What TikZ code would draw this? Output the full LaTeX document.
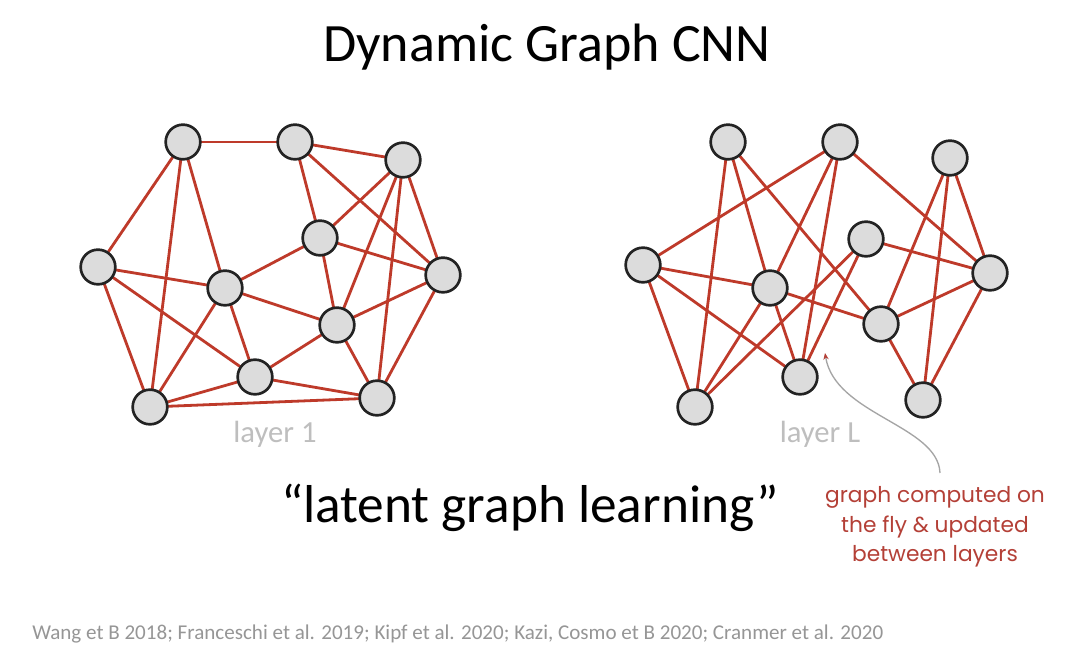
\documentclass[tikz,border=0pt]{standalone}
\usepackage{fontspec}
\setmainfont{Carlito}
\newfontfamily\handfont{Poppins}
\usetikzlibrary{arrows.meta}
\definecolor{edgered}{RGB}{190,58,42}
\definecolor{nodegray}{RGB}{220,220,220}
\definecolor{nodeborder}{RGB}{35,35,35}
\definecolor{labelgray}{RGB}{190,190,190}
\definecolor{citegray}{RGB}{150,150,150}
\definecolor{handred}{RGB}{180,64,55}
\definecolor{arrowgray}{RGB}{165,165,165}
\tikzset{
  vtx/.style={circle, draw=nodeborder, fill=nodegray, line width=2pt, minimum size=26pt, inner sep=0pt},
  edg/.style={draw=edgered, line width=2.1pt},
  fs/.style={font=\fontsize{#1}{#1}\selectfont}
}
\begin{document}
\begin{tikzpicture}[x=0.75pt,y=-0.75pt]
\useasboundingbox (0,0) rectangle (1065,666);
\fill[white] (0,0) rectangle (1065,666);
% title
\node[anchor=base, fs=40.5pt, inner sep=0] (title) at (547,62) {Dynamic Graph CNN};
% left graph nodes (coordinates first, edges under nodes)
\coordinate (A) at (183,142);
\coordinate (B) at (295,142);
\coordinate (C) at (403,160);
\coordinate (D) at (320,238);
\coordinate (E) at (98,267);
\coordinate (F) at (225,288);
\coordinate (G) at (443,275);
\coordinate (H) at (337,325);
\coordinate (I) at (255,377);
\coordinate (J) at (150,407);
\coordinate (K) at (377,398);
\foreach \u/\v in {A/B,B/C,A/E,A/J,A/F,B/D,B/G,C/D,C/H,C/K,C/G,E/F,E/I,E/J,F/D,F/H,F/I,F/J,D/G,D/H,H/G,H/I,H/K,I/J,I/K,J/K,G/K}
  \draw[edg] (\u) -- (\v);
\foreach \n in {A,B,C,D,E,F,G,H,I,J,K}
  \node[vtx] (n\n) at (\n) {};
% right graph
\coordinate (a) at (728,142);
\coordinate (b) at (840,142);
\coordinate (c) at (950,158);
\coordinate (d) at (643,265);
\coordinate (e) at (770,288);
\coordinate (f) at (866,239);
\coordinate (g) at (990,273);
\coordinate (h) at (881,324);
\coordinate (i) at (800,377);
\coordinate (j) at (695,407);
\coordinate (k) at (923,400);
\foreach \u/\v in {a/j,a/e,a/h,b/d,b/e,b/i,b/g,d/e,d/i,d/j,e/h,e/i,e/j,f/g,f/j,f/i,c/h,c/k,c/g,h/g,h/k,g/k}
  \draw[edg] (\u) -- (\v);
\foreach \n in {a,b,c,d,e,f,g,h,i,j,k}
  \node[vtx] (m\n) at (\n) {};
% layer labels
\node[anchor=base, fs=23pt, text=labelgray, inner sep=0] (lab1) at (275,443) {layer 1};
\node[anchor=base, fs=23pt, text=labelgray, inner sep=0] (labL) at (820,443) {layer L};
% latent graph learning
\node[anchor=base, fs=40pt, inner sep=0] (latent) at (530,523) {“latent graph learning”};
% annotation
\node[anchor=north, align=center, text=handred, inner sep=0, font=\handfont\fontsize{16.3pt}{22.3pt}\selectfont] (note) at (935,486) {graph computed on\\the fly \& updated\\between layers};
\coordinate (arrS) at (940,473);
\coordinate (arrE) at (825,353);
\draw[arrowgray, line width=1pt, -{Stealth[length=5pt,width=4pt,color=handred]}] (arrS) .. controls (938,425) and (835,415) .. (arrE);
% citation
\node[anchor=base west, fs=15.8pt, text=citegray, inner sep=0] (cite) at (32,640) {Wang et B 2018; Franceschi et al. 2019; Kipf et al. 2020; Kazi, Cosmo et B 2020; Cranmer et al. 2020};
\end{tikzpicture}
\end{document}
